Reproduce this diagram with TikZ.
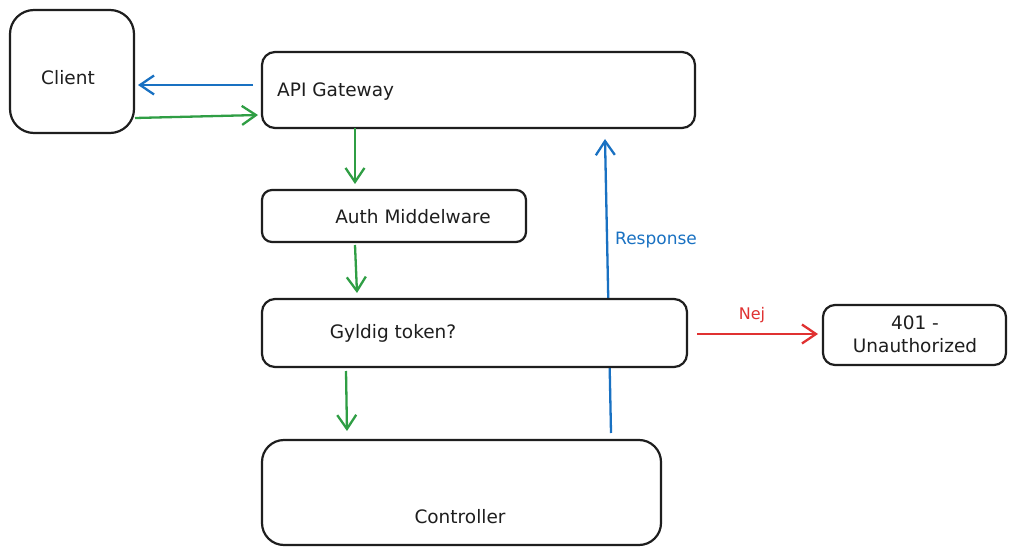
\documentclass[tikz,border=0pt]{standalone}
\usepackage{fontspec}
\setmainfont{DejaVu Sans}
\usetikzlibrary{arrows.meta}
\definecolor{ink}{HTML}{1E1E1E}
\definecolor{eblue}{HTML}{1971C2}
\definecolor{egreen}{HTML}{2F9E44}
\definecolor{ered}{HTML}{E03131}
\tikzset{
  boxst/.style={draw=ink, line width=2.2pt, fill=white},
  conn/.style={line width=2.3pt, -{Straight Barb[length=14pt,width=19pt,line width=2.3pt]}},
  lbl/.style={font=\fontsize{18.5}{23}\selectfont, text=ink, inner sep=0pt},
}
\begin{document}
\begin{tikzpicture}[x=1pt,y=-1pt]
\useasboundingbox[fill=white] (0,0) rectangle (1017,556);
% connectors behind boxes
\coordinate (respstart) at (611,433);
\coordinate (respend) at (605,139);
\draw[conn, eblue] (respstart) -- (respend);
\node[text=eblue, font=\fontsize{17}{20}\selectfont, inner sep=0pt, anchor=west] (resp) at (615,240) {Response};

% boxes
\draw[boxst, rounded corners=24pt] (10,10) rectangle (134,133);
\node[lbl] (client) at (68,78) {Client};

\draw[boxst, rounded corners=13pt] (262,52) rectangle (695,128);
\node[lbl, anchor=west] (api) at (277,92) {API Gateway};

\draw[boxst, rounded corners=10pt] (262,190) rectangle (526,242);
\node[lbl] (auth) at (413,217) {Auth Middelware};

\draw[boxst, rounded corners=13pt] (262,299) rectangle (687,367);
\node[lbl] (gyldig) at (393,333) {Gyldig token?};

\draw[boxst, rounded corners=12pt] (823,305) rectangle (1006,365);
\node[lbl, align=center] (unauth) at (915,334) {401 -\\Unauthorized};

\draw[boxst, rounded corners=22pt] (262,440) rectangle (661,545);
\node[lbl] (ctrl) at (460,517) {Controller};

% arrows
\coordinate (a1s) at (253,85); \coordinate (a1e) at (138,85);
\draw[conn, eblue] (a1s) -- (a1e);
\coordinate (a2s) at (135,118); \coordinate (a2e) at (258,115);
\draw[conn, egreen] (a2s) -- (a2e);
\coordinate (a3s) at (355,128); \coordinate (a3e) at (355,184);
\draw[conn, egreen] (a3s) -- (a3e);
\coordinate (a4s) at (355,245); \coordinate (a4e) at (357,293);
\draw[conn, egreen] (a4s) -- (a4e);
\coordinate (a5s) at (346,371); \coordinate (a5e) at (347,431);
\draw[conn, egreen] (a5s) -- (a5e);
\coordinate (a6s) at (697,334); \coordinate (a6e) at (818,334);
\draw[conn, ered] (a6s) -- (a6e);
\node[text=ered, font=\fontsize{16}{19}\selectfont, inner sep=0pt] (nej) at (752,315) {Nej};
\end{tikzpicture}
\end{document}
